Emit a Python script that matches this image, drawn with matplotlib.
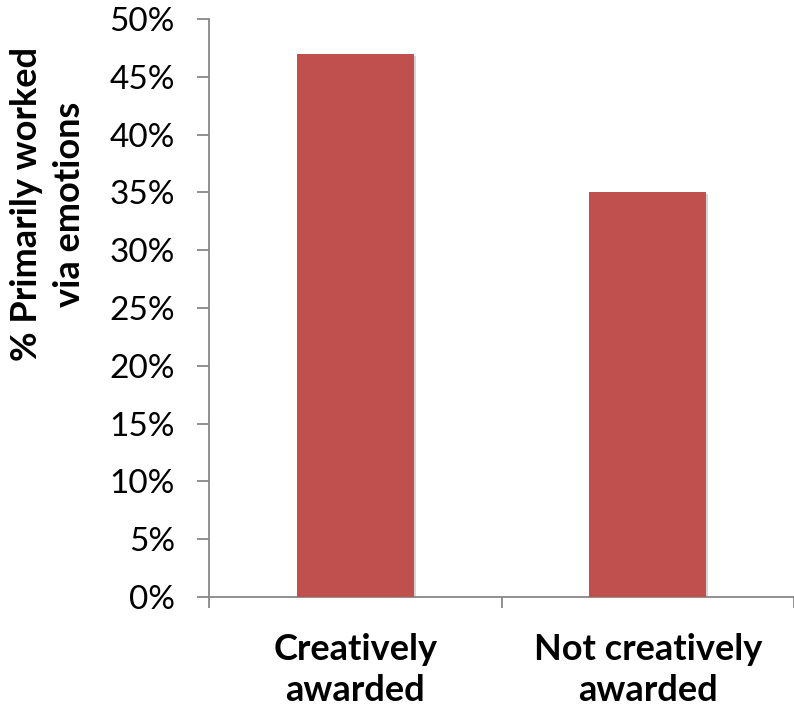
import matplotlib
matplotlib.use("Agg")
import matplotlib.pyplot as plt
import matplotlib.patheffects as pe
from matplotlib.ticker import FuncFormatter, MultipleLocator

categories = ["Creatively\nawarded", "Not creatively\nawarded"]
values = [47, 35]  # percent
ylabel = "% Primarily worked\nvia emotions"

BAR_COLOR = "#C0504D"
AXIS_COLOR = "#878787"

plt.rcParams["font.family"] = ["Lato", "DejaVu Sans"]

fig = plt.figure(figsize=(7.94, 7.06), dpi=100)
ax = fig.add_axes([209 / 794, 1 - 597 / 706, 1 - 209 / 794, (597 - 19) / 706])

x = list(range(len(categories)))
bars = ax.bar(x, values, width=0.40, color=BAR_COLOR, zorder=3)
for b in bars:
    b.set_path_effects([pe.SimplePatchShadow(offset=(1.5, -1.5), shadow_rgbFace="#888888", alpha=0.35),
                        pe.Normal()])

ax.set_xlim(-0.5, 1.5)
ax.set_ylim(0, 50)
ax.yaxis.set_major_locator(MultipleLocator(5))
ax.yaxis.set_major_formatter(FuncFormatter(lambda v, _: f"{v:.0f}%"))

for side in ("top", "right"):
    ax.spines[side].set_visible(False)
for side in ("left", "bottom"):
    ax.spines[side].set_color(AXIS_COLOR)
    ax.spines[side].set_linewidth(1.3)

ax.tick_params(axis="y", direction="out", length=8.5, width=1.3, color=AXIS_COLOR,
               labelsize=24, pad=16, labelcolor="black")

# category names on major ticks, boundary ticks as minor
ax.set_xticks(x)
ax.set_xticklabels(categories, fontsize=26, fontweight="bold", linespacing=1.3)
ax.set_xticks([-0.5, 0.5, 1.5], minor=True)
ax.tick_params(axis="x", which="major", length=0, pad=26)
ax.tick_params(axis="x", which="minor", direction="out", length=8, width=1.3, color=AXIS_COLOR)

fig.text(48 / 794, 1 - 204 / 706, ylabel, rotation=90, ha="center", va="center",
         fontsize=26, fontweight="bold", linespacing=1.35, multialignment="center")

fig.savefig("out.png", dpi=100)
